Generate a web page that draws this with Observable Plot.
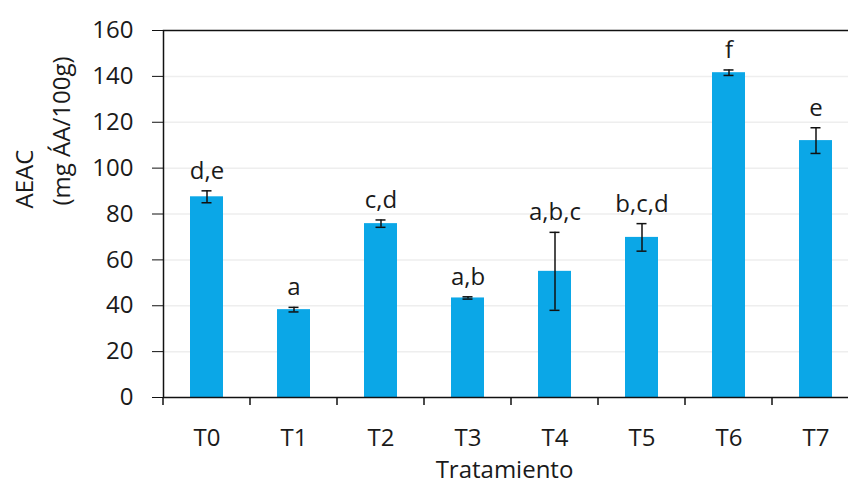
<!DOCTYPE html>
<html>
<head>
<meta charset="utf-8">
<script src="https://cdn.jsdelivr.net/npm/d3@7"></script>
<script src="https://cdn.jsdelivr.net/npm/@observablehq/plot@0.6"></script>
<style>
  html, body { margin: 0; padding: 0; background: #fff; overflow: hidden; width: 848px; height: 486px; }
  #chart { width: 848px; height: 486px; overflow: hidden; }
  #chart svg { display: block; max-width: none !important; width: 870px !important; height: 486px !important; }
</style>
</head>
<body>
<div id="chart"></div>
<script>
const categories = ["T0", "T1", "T2", "T3", "T4", "T5", "T6", "T7"];
const means = [87.5, 38.3, 75.8, 43.4, 55.0, 69.8, 141.6, 112.0];
const errors = [2.6, 1.0, 1.6, 0.5, 17.0, 6.0, 1.2, 5.6];
const letters = ["d,e", "a", "c,d", "a,b", "a,b,c", "b,c,d", "f", "e"];
const yTicks = [0, 20, 40, 60, 80, 100, 120, 140, 160];
const yTitleLines = ["AEAC", "(mg ÁA/100g)"];
const xTitle = "Tratamiento";

const data = categories.map((c, i) => ({cat: c, v: means[i], e: errors[i], lab: letters[i]}));

const font = "'Open Sans', sans-serif";
const barColor = "#0ba7e7";
const ink = "#1a1a1a";
const fs = 24;

const chart = Plot.plot({
  width: 870,
  height: 486,
  marginLeft: 163,
  marginRight: 11,
  marginTop: 30,
  marginBottom: 89,
  style: {fontFamily: font, background: "#fff", color: ink},
  x: {domain: categories, paddingInner: 0.62, paddingOuter: 0.31, label: null},
  y: {domain: [0, 160], label: null},
  marks: [
    Plot.gridY(yTicks.slice(1, -1), {stroke: "#eeeeee", strokeOpacity: 1, strokeWidth: 1.5}),
    Plot.barY(data, {x: "cat", y: "v", fill: barColor}),
    Plot.ruleX(data, {x: "cat", y1: d => d.v - d.e, y2: d => d.v + d.e, stroke: "#111", strokeWidth: 1.5}),
    Plot.tickY(data, {x: "cat", y: d => d.v + d.e, stroke: "#111", strokeWidth: 1.5, insetLeft: 11.5, insetRight: 11.5}),
    Plot.tickY(data, {x: "cat", y: d => d.v - d.e, stroke: "#111", strokeWidth: 1.5, insetLeft: 11.5, insetRight: 11.5}),
    Plot.text(data, {x: "cat", y: d => d.v + d.e, text: "lab", lineAnchor: "bottom", dy: -12, fontSize: fs, fill: ink}),
    Plot.frame({stroke: "#111", strokeWidth: 1.5}),
    Plot.axisY({ticks: yTicks, tickSize: 11, tickPadding: 19, fontSize: fs, stroke: "#111", fill: ink, label: null}),
    Plot.axisX({tickSize: 0, tickPadding: 31, fontSize: fs, fill: ink, label: null}),
    Plot.text([xTitle], {frameAnchor: "bottom", text: d => d, dy: 80, dx: -7, fontSize: fs, fill: ink}),
    Plot.text([yTitleLines[0]], {frameAnchor: "left", text: d => d, rotate: -90, dx: -138, dy: -5.5, fontSize: fs, fill: ink}),
    Plot.text([yTitleLines[1]], {frameAnchor: "left", text: d => d, rotate: -90, dx: -101, dy: -8.5, fontSize: fs, fill: ink})
  ]
});

// x-axis ticks at the category boundaries, positioned via Plot's x scale
const xs = chart.scale("x");
const bottomY = chart.scale("y").apply(0);
const svg = d3.select(chart);
const half = xs.step / 2;
const boundaries = categories.map(c => xs.apply(c) + xs.bandwidth / 2 - half)
  .concat([xs.apply(categories[categories.length - 1]) + xs.bandwidth / 2 + half]);
svg.append("g")
  .attr("stroke", "#111")
  .attr("stroke-width", 1.5)
  .selectAll("line")
  .data(boundaries)
  .join("line")
  .attr("x1", d => d).attr("x2", d => d)
  .attr("y1", bottomY).attr("y2", bottomY + 8);

document.getElementById("chart").append(chart);
</script>
</body>
</html>
